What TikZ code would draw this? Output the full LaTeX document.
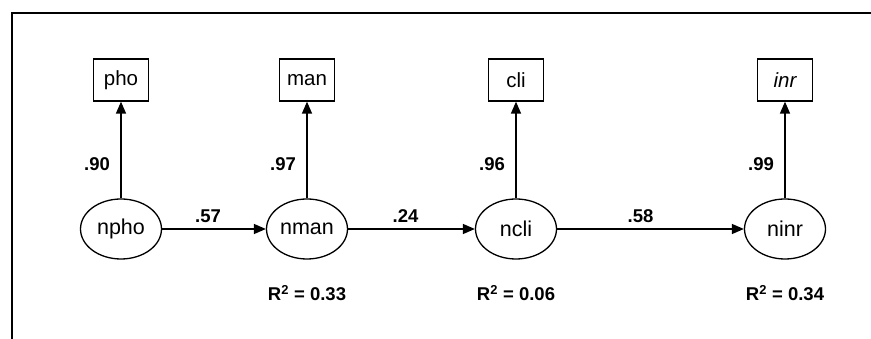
\documentclass[tikz,border=0pt]{standalone}
\usepackage{fontspec}
\setmainfont{Liberation Sans}
\usetikzlibrary{arrows.meta,shapes.geometric}

\tikzset{
  obs/.style={draw,line width=1.3pt,minimum width=55pt,minimum height=42pt,inner sep=0pt,font=\fontsize{20.5}{24}\selectfont},
  lat/.style={draw,ellipse,line width=1.3pt,minimum width=81pt,minimum height=60pt,inner sep=0pt,font=\fontsize{21.5}{25}\selectfont},
  coef/.style={font=\bfseries\fontsize{18.5}{22}\selectfont},
  link/.style={line width=1.5pt,-{Triangle[length=12pt,width=10pt]}}
}

\begin{document}
\begin{tikzpicture}[x=1pt,y=1pt]
\useasboundingbox (0,0) rectangle (871,339);
\draw[line width=1.8pt] (871,326) -- (12,326) -- (12,0);

\node[lat] (npho) at (121,110) {npho};
\node[lat] (nman) at (307,110) {nman};
\node[lat] (ncli) at (516,110) {ncli};
\node[lat] (ninr) at (785,110) {ninr};

\node[obs] (pho) at (121,259) {pho};
\node[obs] (man) at (307,259) {man};
\node[obs] (cli) at (516,259) {cli};
\node[obs] (inr) at (785,259) {\itshape inr};

\draw[link] (npho) -- node[coef,left,pos=0.35,xshift=-7pt] {.90} (pho);
\draw[link] (nman) -- node[coef,left,pos=0.35,xshift=-7pt] {.97} (man);
\draw[link] (ncli) -- node[coef,left,pos=0.35,xshift=-7pt] {.96} (cli);
\draw[link] (ninr) -- node[coef,left,pos=0.35,xshift=-7pt] {.99} (inr);

\draw[link] (npho) -- node[coef,above=2pt,xshift=-6pt] {.57} (nman);
\draw[link] (nman) -- node[coef,above=2pt,xshift=-6pt] {.24} (ncli);
\draw[link] (ncli) -- node[coef,above=2pt,xshift=-10pt] {.58} (ninr);

\node[coef] (r2man) at (307,46) {R\textsuperscript{2} = 0.33};
\node[coef] (r2cli) at (516,46) {R\textsuperscript{2} = 0.06};
\node[coef] (r2inr) at (785,46) {R\textsuperscript{2} = 0.34};
\end{tikzpicture}
\end{document}
